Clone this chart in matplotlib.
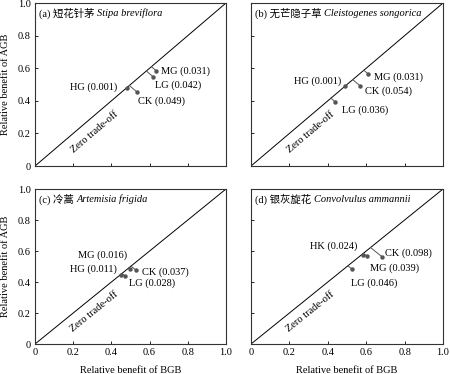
import numpy as np
import matplotlib.pyplot as plt

plt.rcParams['font.family'] = ['Liberation Serif', 'Noto Sans CJK SC']
plt.rcParams['font.size'] = 7.5

# panel titles: prefix (regular, with Chinese) + latin name (italic)
prefixes = ['(a) 短花针茅', '(b) 无芒隐子草', '(c) 冷蒿', '(d) 银灰旋花']
species = ['Stipa breviflora', 'Cleistogenes songorica', 'Artemisia frigida', 'Convolvulus ammannii']

# relative benefit of BGB (x) / AGB (y) per treatment
groups = [['MG', 'LG', 'HG', 'CK'],
          ['MG', 'CK', 'HG', 'LG'],
          ['MG', 'CK', 'HG', 'LG'],
          ['HK', 'MG', 'CK', 'LG']]
rmse = [[0.031, 0.042, 0.001, 0.049],
        [0.031, 0.054, 0.001, 0.036],
        [0.016, 0.037, 0.011, 0.028],
        [0.024, 0.039, 0.098, 0.046]]
bgb = [[0.633, 0.617, 0.483, 0.533],
       [0.611, 0.569, 0.490, 0.438],
       [0.497, 0.527, 0.449, 0.471],
       [0.585, 0.602, 0.681, 0.528]]
agb = [[0.586, 0.549, 0.478, 0.455],
       [0.564, 0.491, 0.488, 0.394],
       [0.487, 0.478, 0.447, 0.440],
       [0.573, 0.568, 0.564, 0.481]]
# label anchor (x, y, ha)
label_pos = [[(0.66, 0.58, 'left'), (0.63, 0.494, 'left'), (0.43, 0.484, 'right'), (0.54, 0.395, 'left')],
             [(0.64, 0.548, 'left'), (0.594, 0.462, 'left'), (0.472, 0.52, 'right'), (0.476, 0.344, 'left')],
             [(0.483, 0.57, 'right'), (0.56, 0.462, 'left'), (0.428, 0.483, 'right'), (0.49, 0.39, 'left')],
             [(0.556, 0.63, 'right'), (0.62, 0.487, 'left'), (0.70, 0.588, 'left'), (0.52, 0.39, 'left')]]

ticks = [0, 0.2, 0.4, 0.6, 0.8, 1.0]
tick_labels = ['0', '0.2', '0.4', '0.6', '0.8', '1.0']

fig = plt.figure(figsize=(4.5, 3.74), dpi=100)
rects = [[0.0778, 0.5561, 0.4244, 0.4358],
         [0.5578, 0.5561, 0.4267, 0.4358],
         [0.0778, 0.0802, 0.4244, 0.4144],
         [0.5578, 0.0802, 0.4267, 0.4144]]

for i in range(4):
    ax = fig.add_axes(rects[i])
    ax.set_xlim(0, 1)
    ax.set_ylim(0, 1)
    ax.plot([0, 1], [0, 1], color='black', lw=0.7)
    for g, r, x, y, lp in zip(groups[i], rmse[i], bgb[i], agb[i], label_pos[i]):
        m = (x + y) / 2
        ax.plot([x, m], [y, m], color='#555555', lw=0.7)
        ax.plot(x, y, 'o', color='#555555', ms=3.2, mec='none')
        ax.text(lp[0], lp[1], f'{g} ({r:.3f})', ha=lp[2], va='center', fontsize=7.5)
    ax.text(0.31, 0.21, 'Zero trade-off', rotation=45, transform_rotates_text=True,
            rotation_mode='anchor', ha='center', va='center', fontsize=7.5)
    t1 = ax.text(0.022, 0.935, prefixes[i] + ' ', transform=ax.transAxes, va='center', ha='left', fontsize=7.5)
    ax.annotate(species[i], xy=(1, 0.5), xycoords=t1, va='center', ha='left',
                fontstyle='italic', family='Liberation Serif', fontsize=7.5)
    ax.set_xticks(ticks)
    ax.set_yticks(ticks)
    ax.tick_params(direction='in', length=2.5, width=0.6, pad=3, labelsize=7.5)
    if i in (0, 2):
        ax.set_yticklabels(tick_labels)
        ax.set_ylabel('Relative benefit of AGB', fontsize=7.5, labelpad=6)
    else:
        ax.set_yticklabels([])
    if i in (2, 3):
        ax.set_xticklabels(tick_labels)
        ax.set_xlabel('Relative benefit of BGB', fontsize=7.5, labelpad=6)
    else:
        ax.set_xticklabels([])
    for s in ax.spines.values():
        s.set_linewidth(0.8)
        s.set_color('#333333')

plt.savefig('out.png', dpi=100)
